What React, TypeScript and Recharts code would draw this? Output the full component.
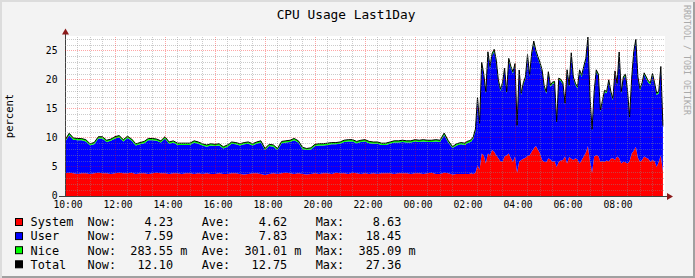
import React from 'react';
import { ComposedChart, Area, Line, XAxis, YAxis, CartesianGrid, ReferenceLine } from 'recharts';

// x tick labels (every 2 hours starting 10:00)
const timeLabels = ['10:00', '12:00', '14:00', '16:00', '18:00', '20:00', '22:00', '00:00', '02:00', '04:00', '06:00', '08:00'];

// 10:00 -> 01:50, 10-minute samples
const earlySystem = [
  3.9, 4.0, 3.9, 3.8, 3.9, 3.9, 3.8, 3.9, 4.0, 3.9,
  3.9, 3.8, 3.9, 4.0, 3.9, 3.9, 4.0, 3.8, 3.9, 3.9,
  3.8, 3.9, 4.0, 3.9, 3.9, 3.8, 3.9, 3.9, 3.8, 3.9,
  3.9, 3.8, 3.9, 3.8, 3.9, 3.8, 3.8, 3.9, 3.8, 3.8,
  3.9, 3.9, 3.8, 3.7, 3.8, 3.9, 3.9, 3.8, 3.6, 3.8,
  3.9, 3.8, 3.9, 4.0, 3.9, 3.8, 3.9, 3.8, 3.7, 3.8,
  3.9, 3.8, 3.9, 3.9, 3.8, 4.0, 3.9, 3.9, 3.8, 4.0,
  3.9, 3.8, 3.9, 3.8, 3.9, 3.8, 3.9, 3.9, 3.9, 3.8,
  3.9, 3.9, 3.9, 3.8, 3.9, 3.9, 3.8, 3.9, 4.0, 3.8,
  3.8, 4.0, 3.9, 3.7, 3.8, 3.8,
];
const earlyUser = [
  5.4, 6.45, 5.8, 5.8, 5.7, 5.5, 4.95, 5.0, 5.9, 6.0,
  5.4, 5.7, 6.0, 6.1, 5.5, 6.1, 5.5, 4.9, 5.0, 5.2,
  5.8, 5.7, 5.5, 5.3, 6.0, 5.2, 5.3, 4.9, 5.0, 4.9,
  4.9, 5.4, 5.1, 4.9, 4.6, 4.9, 4.8, 4.8, 4.4, 4.7,
  5.1, 5.0, 4.9, 5.2, 5.2, 4.8, 5.1, 5.4, 4.3, 4.8,
  4.6, 4.1, 5.2, 5.2, 5.4, 5.8, 5.3, 4.3, 4.2, 4.2,
  4.7, 4.9, 4.8, 4.9, 5.1, 4.9, 5.1, 5.4, 5.6, 5.4,
  5.2, 5.5, 5.5, 5.3, 5.1, 5.2, 4.9, 4.9, 5.1, 5.4,
  5.3, 5.4, 5.3, 5.4, 5.5, 5.4, 5.6, 5.4, 5.3, 5.6,
  5.5, 6.5, 5.3, 4.55, 4.9, 5.1,
];
const earlyNice = [
  0.3, 0.35, 0.3, 0.3, 0.29, 0.3, 0.25, 0.3, 0.31, 0.3,
  0.3, 0.3, 0.32, 0.3, 0.3, 0.3, 0.3, 0.28, 0.3, 0.3,
  0.31, 0.3, 0.3, 0.3, 0.3, 0.3, 0.29, 0.3, 0.3, 0.3,
  0.3, 0.3, 0.3, 0.3, 0.28, 0.3, 0.3, 0.3, 0.27, 0.3,
  0.3, 0.3, 0.3, 0.3, 0.31, 0.3, 0.3, 0.3, 0.28, 0.3,
  0.3, 0.28, 0.3, 0.3, 0.3, 0.31, 0.3, 0.28, 0.28, 0.3,
  0.3, 0.3, 0.3, 0.3, 0.3, 0.3, 0.3, 0.31, 0.3, 0.3,
  0.3, 0.3, 0.3, 0.3, 0.3, 0.3, 0.29, 0.3, 0.3, 0.3,
  0.3, 0.3, 0.3, 0.3, 0.3, 0.3, 0.3, 0.3, 0.3, 0.3,
  0.3, 0.33, 0.3, 0.25, 0.3, 0.3,
];

// 02:00 -> 09:55, 5-minute samples
const lateSystem = [
  3.8, 3.8, 3.8, 3.9, 3.8, 4.0, 5.3, 4.5, 7.3, 7.0,
  5.6, 7.3, 7.0, 7.9, 7.6, 7.0, 6.5, 6.0, 5.9, 6.8,
  7.0, 7.3, 6.5, 5.9, 6.8, 4.0, 5.9, 6.2, 6.4, 6.6,
  6.9, 7.0, 7.6, 8.2, 8.6, 8.0, 7.3, 6.2, 5.9, 5.8,
  6.5, 6.3, 5.9, 6.0, 5.0, 5.9, 6.1, 6.2, 6.8, 5.6,
  6.7, 6.4, 6.2, 6.5, 6.3, 5.6, 6.2, 6.8, 7.5, 8.63,
  6.0, 4.0, 6.8, 7.0, 6.9, 5.9, 6.0, 5.9, 6.1, 6.0,
  6.4, 6.5, 6.2, 6.8, 6.5, 5.6, 5.9, 5.8, 5.6, 6.0,
  7.3, 7.8, 8.5, 6.6, 5.9, 6.2, 6.8, 6.6, 6.4, 5.9,
  6.2, 6.0, 5.0, 5.9, 7.0, 4.23,
];
const lateUser = [
  5.0, 5.3, 5.4, 5.5, 6.1, 7.2, 11.4, 7.7, 15.4, 13.7,
  12.0, 17.2, 15.0, 16.3, 17.3, 16.1, 13.2, 12.1, 13.3, 14.9,
  10.6, 16.1, 15.5, 15.2, 15.7, 7.9, 15.5, 11.2, 12.8, 13.6,
  17.1, 13.5, 16.7, 18.1, 16.2, 15.7, 15.4, 15.2, 12.8, 11.8,
  14.6, 12.5, 13.4, 13.4, 7.5, 14.1, 13.7, 13.0, 8.9, 15.8,
  12.1, 17.9, 14.0, 12.6, 12.2, 15.8, 14.3, 15.2, 15.9, 18.43,
  10.7, 7.2, 10.9, 14.4, 13.8, 8.6, 10.2, 12.0, 11.6, 13.7,
  11.3, 10.0, 15.0, 12.3, 18.0, 12.0, 14.3, 14.9, 12.3, 7.3,
  12.7, 16.7, 18.2, 13.6, 12.3, 13.0, 14.1, 13.6, 13.1, 13.3,
  14.6, 13.2, 12.4, 11.8, 15.0, 7.59,
];
const lateNice = [
  0.3, 0.3, 0.31, 0.3, 0.3, 0.32, 0.3, 0.3, 0.35, 0.3,
  0.3, 0.33, 0.3, 0.3, 0.36, 0.3, 0.3, 0.3, 0.32, 0.3,
  0.3, 0.3, 0.34, 0.3, 0.3, 0.28, 0.3, 0.3, 0.3, 0.32,
  0.35, 0.3, 0.3, 0.385, 0.3, 0.3, 0.3, 0.31, 0.3, 0.3,
  0.3, 0.3, 0.3, 0.33, 0.28, 0.3, 0.3, 0.3, 0.3, 0.34,
  0.3, 0.36, 0.3, 0.3, 0.3, 0.32, 0.3, 0.3, 0.3, 0.3,
  0.3, 0.28, 0.3, 0.33, 0.3, 0.3, 0.3, 0.3, 0.3, 0.31,
  0.3, 0.3, 0.34, 0.3, 0.3, 0.3, 0.3, 0.32, 0.3, 0.29,
  0.3, 0.35, 0.3, 0.3, 0.3, 0.3, 0.31, 0.3, 0.3, 0.3,
  0.32, 0.3, 0.3, 0.3, 0.3, 0.284,
];

// legend text
const legendNames = ['System', 'User', 'Nice', 'Total'];
const legendColors = ['#ff0000', '#0000ff', '#00ff00', '#000000'];
const legendNow = ['4.23', '7.59', '283.55', '12.10'];
const legendAve = ['4.62', '7.83', '301.01', '12.75'];
const legendMax = ['8.63', '18.45', '385.09', '27.36'];
const legendUnit = [' ', ' ', 'm', ' '];

const yTicks = [0, 5, 10, 15, 20, 25];

const data = [
  ...earlySystem.map((s, i) => ({ t: i * 10, system: s, user: earlyUser[i], nice: earlyNice[i] })),
  ...lateSystem.map((s, j) => ({ t: 960 + j * 5, system: s, user: lateUser[j], nice: lateNice[j] })),
];

const xMajor = timeLabels.map((_, i) => i * 120);
const xMinor = Array.from({ length: 47 }, (_, i) => (i + 1) * 30).filter((v) => v % 120 !== 0);
const yMajor = [5, 10, 15, 20, 25];
const yMinor = Array.from({ length: 27 }, (_, i) => i + 1).filter((v) => v % 5 !== 0);

const W = 695;
const H = 278;
const MONO = '"DejaVu Sans Mono", "Liberation Mono", monospace';

const legendLine = (i: number) =>
  legendNames[i].padEnd(8) +
  'Now:' + legendNow[i].padStart(8) + ' ' + legendUnit[i] + '  ' +
  'Ave:' + legendAve[i].padStart(8) + ' ' + legendUnit[i] + '  ' +
  'Max:' + legendMax[i].padStart(8) + ' ' + legendUnit[i];

export default function App() {
  const minorStroke = 'rgba(140,140,140,0.45)';
  const majorStroke = 'rgba(255,0,0,0.35)';
  return (
    <div
      style={{
        position: 'absolute',
        left: 0,
        top: 0,
        width: W,
        height: H,
        background: '#f3f3f3',
        boxShadow: 'inset 2px 2px 0 #dcdcdc, inset -2px -2px 0 #a0a0a0',
        overflow: 'hidden',
      }}
    >
      <div style={{ position: 'absolute', left: 0, top: 0 }}>
        <ComposedChart width={W} height={H} data={data} margin={{ top: 36, right: 30, bottom: 0, left: 0 }}>
          <CartesianGrid fill="#ffffff" horizontal={false} vertical={false} stroke="none" />
          <XAxis
            dataKey="t"
            type="number"
            domain={[0, 1440]}
            ticks={xMajor}
            interval={0}
            tickFormatter={(v: number) => timeLabels[Math.round(v / 120)] ?? ''}
            height={82}
            tickLine={false}
            tickSize={0}
            tickMargin={5.5}
            axisLine={{ stroke: '#404040', shapeRendering: 'crispEdges' }}
            tick={{ fontSize: 9.7, fontFamily: MONO, fill: '#000000', dx: 3 }}
            allowDataOverflow
          />
          <YAxis
            type="number"
            domain={[0, 27.55]}
            ticks={yTicks}
            interval={0}
            width={65}
            tickLine={false}
            tickSize={0}
            tickMargin={7.5}
            axisLine={{ stroke: '#404040', shapeRendering: 'crispEdges' }}
            tick={{ fontSize: 9.7, fontFamily: MONO, fill: '#000000' }}
            allowDataOverflow
          />
          <Area dataKey="system" stackId="a" type="linear" stroke="none" fill="#ff0000" fillOpacity={1} isAnimationActive={false} dot={false} activeDot={false} />
          <Area dataKey="user" stackId="a" type="linear" stroke="none" fill="#0000ff" fillOpacity={1} isAnimationActive={false} dot={false} activeDot={false} />
          <Area dataKey="nice" stackId="a" type="linear" stroke="none" fill="#00ff00" fillOpacity={1} isAnimationActive={false} dot={false} activeDot={false} />
          <Line
            dataKey={(d: any) => d.system + d.user + d.nice}
            type="linear"
            stroke="#000000"
            strokeWidth={1}
            dot={false}
            activeDot={false}
            isAnimationActive={false}
          />
          {yMinor.map((v) => (
            <ReferenceLine key={'ym' + v} y={v} stroke={minorStroke} strokeDasharray="1 1" shapeRendering="crispEdges" zIndex={600} />
          ))}
          {xMinor.map((v) => (
            <ReferenceLine key={'xm' + v} x={v} stroke={minorStroke} strokeDasharray="1 1" shapeRendering="crispEdges" zIndex={600} />
          ))}
          {yMajor.map((v) => (
            <ReferenceLine key={'yM' + v} y={v} stroke={majorStroke} strokeDasharray="1 1" shapeRendering="crispEdges" zIndex={610} />
          ))}
          {xMajor.filter((v) => v > 0).map((v) => (
            <ReferenceLine key={'xM' + v} x={v} stroke={majorStroke} strokeDasharray="1 1" shapeRendering="crispEdges" zIndex={610} />
          ))}
        </ComposedChart>
      </div>
      <svg
        width={W}
        height={H}
        style={{ position: 'absolute', left: 0, top: 0, pointerEvents: 'none' }}
        fontFamily={MONO}
      >
        <text x={346} y={19.2} fontSize={12.8} textAnchor="middle" fill="#000">
          CPU Usage Last1Day
        </text>
        <text x={12.5} y={116} fontSize={10.5} textAnchor="middle" fill="#000" transform="rotate(-90 12.5 116)">
          percent
        </text>
        <text x={683.5} y={5} fontSize={8.3} fill="#aaaaaa" transform="rotate(90 683.5 5)">
          RRDTOOL / TOBI OETIKER
        </text>
        {/* axis extensions and arrows */}
        <line x1={65.5} y1={36} x2={65.5} y2={33} stroke="#404040" />
        <polygon points="62,34.5 69,34.5 65.5,28.5" fill="#8b1a1a" />
        <line x1={59} y1={196.5} x2={65} y2={196.5} stroke="#404040" />
        <line x1={665} y1={196.5} x2={668} y2={196.5} stroke="#404040" />
        <polygon points="667,193 667,200 673,196.5" fill="#8b1a1a" />
        {legendNames.map((name, i) => (
          <g key={name}>
            <rect x={15.5} y={218.5 + i * 14.1} width={7} height={7} fill={legendColors[i]} stroke="#000" strokeWidth={1} />
            <text x={30.5} y={226.3 + i * 14.1} fontSize={11.85} fill="#000" style={{ whiteSpace: 'pre' }} xmlSpace="preserve">
              {legendLine(i)}
            </text>
          </g>
        ))}
      </svg>
    </div>
  );
}
